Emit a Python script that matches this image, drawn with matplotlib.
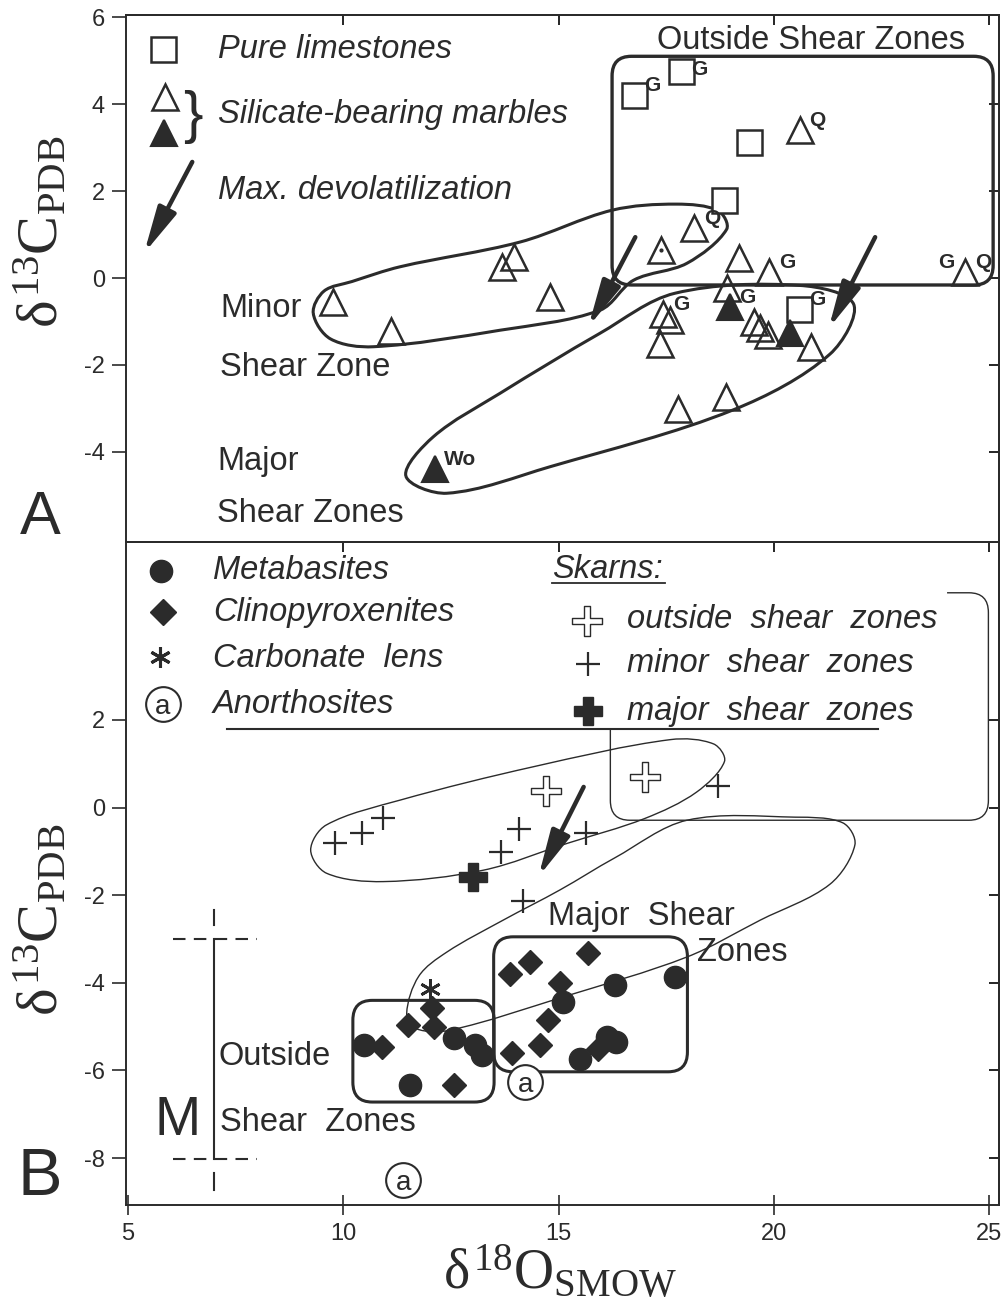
import numpy as np
import matplotlib
matplotlib.use('Agg')
import matplotlib.pyplot as plt
from matplotlib.patches import FancyBboxPatch, PathPatch, FancyArrowPatch
from matplotlib.path import Path

plt.rcParams['font.family'] = ['Liberation Sans', 'DejaVu Sans']
plt.rcParams['mathtext.fontset'] = 'custom'
plt.rcParams['mathtext.rm'] = 'Liberation Serif'
plt.rcParams['mathtext.it'] = 'Liberation Serif'
plt.rcParams['axes.unicode_minus'] = False

INK = '#2b2b2b'

# ====== Panel A : marbles
lime_x = [16.75, 17.85, 19.42, 18.84, 20.59]
lime_y = [4.21, 4.77, 3.13, 1.80, -0.71]

sil_open_x = [20.60, 18.15, 17.37, 19.18, 19.89, 24.44, 9.77, 11.10, 13.69, 13.97, 14.81,
              17.43, 17.59, 17.35, 18.92, 19.54, 19.68, 19.85, 20.86, 18.88, 17.77]
sil_open_y = [3.40, 1.14, 0.64, 0.47, 0.13, 0.13, -0.54, -1.21, 0.25, 0.48, -0.44,
              -0.83, -0.97, -1.52, -0.24, -1.02, -1.16, -1.31, -1.58, -2.73, -3.02]
sil_fill_x = [12.12, 18.97, 20.38]
sil_fill_y = [-4.39, -0.67, -1.27]
dotted_x = [17.37]
dotted_y = [0.64]

# mineral tags written next to some samples
tag_x = [16.75, 17.85, 20.60, 18.15, 19.89, 24.44, 24.44, 17.43, 18.97, 20.59, 12.12]
tag_y = [4.21, 4.77, 3.40, 1.14, 0.13, 0.13, 0.13, -0.83, -0.67, -0.71, -4.39]
tag_txt = ['G', 'G', 'Q', 'Q', 'G', 'G', 'Q', 'G', 'G', 'G', 'Wo']
tag_side = ['r', 'r', 'r', 'r', 'r', 'l', 'r', 'r', 'r', 'r', 'r']

# hand drawn outlines of panel A
minorA_x = [9.30, 9.55, 10.20, 11.32, 14.11, 16.24, 17.74, 18.70, 18.90, 17.98, 16.74, 15.96, 13.64, 10.70, 9.70]
minorA_y = [-0.81, -0.30, -0.08, 0.26, 0.83, 1.56, 1.70, 1.55, 1.12, 0.34, -0.05, -0.74, -1.20, -1.58, -1.40]
majorA_x = [11.45, 12.09, 13.64, 15.96, 17.70, 20.60, 21.85, 21.30, 19.06, 14.80, 12.40]
majorA_y = [-4.55, -3.65, -2.65, -1.27, -0.35, -0.17, -0.60, -1.75, -3.03, -4.34, -4.95]
outsideA_box = (16.24, -0.16, 25.09, 5.10)

# ====== Panel B : metabasites, clinopyroxenites, skarns
metab_x = [10.47, 12.56, 13.06, 13.21, 11.54, 15.11, 16.31, 17.71, 16.13, 16.32, 15.50]
metab_y = [-5.42, -5.27, -5.42, -5.65, -6.34, -4.43, -4.05, -3.86, -5.23, -5.35, -5.73]
cpx_x = [10.89, 12.56, 11.51, 12.05, 12.10, 13.87, 14.34, 15.69, 15.03, 14.76, 14.57, 13.91, 15.92]
cpx_y = [-5.46, -6.34, -4.97, -4.58, -5.00, -3.79, -3.52, -3.33, -4.01, -4.85, -5.42, -5.61, -5.50]
carb_x = [12.01]
carb_y = [-4.13]
anor_x = [14.22, 11.39]
anor_y = [-6.26, -8.49]
skarn_out_x = [14.71, 17.01]
skarn_out_y = [0.38, 0.70]
skarn_minor_x = [9.81, 10.43, 10.92, 14.09, 13.66, 14.18, 15.63, 18.71]
skarn_minor_y = [-0.82, -0.59, -0.23, -0.49, -1.01, -2.13, -0.59, 0.49]
skarn_major_x = [13.02]
skarn_major_y = [-1.58]

minorB_x = [9.24, 9.60, 11.32, 14.41, 17.60, 18.60, 18.85, 18.20, 17.00, 15.19, 13.25, 10.93, 9.61]
minorB_y = [-0.97, -0.40, 0.17, 0.93, 1.55, 1.45, 1.05, 0.35, -0.25, -0.82, -1.43, -1.69, -1.50]
majorB_x = [11.47, 11.75, 12.40, 13.71, 15.03, 16.30, 17.98, 20.50, 21.60, 21.88, 21.30, 19.68, 17.98, 15.11, 12.48, 11.70]
majorB_y = [-4.70, -3.85, -3.30, -2.57, -1.88, -1.15, -0.29, -0.22, -0.35, -0.85, -1.75, -2.57, -3.41, -4.32, -5.08, -5.05]
outsideB_box = (10.22, -6.72, 13.50, -4.40)
majorB_box = (13.49, -6.03, 17.99, -2.95)
skarn_frame = [(24.02, 4.90), (24.98, 4.90), (24.98, -0.29), (16.20, -0.29), (16.20, 1.79)]

# max devolatilization arrows (start, end)
devolA = [((16.78, 0.94), (15.69, -1.12)), ((22.35, 0.94), (21.27, -1.16))]
devolB = [((15.58, 0.47), (14.53, -1.58))]

# "M" range bar
m_x = 7.0
m_top, m_bot = -3.01, -8.03


def smooth_loop(xs, ys):
    # closed Catmull-Rom outline, tangents scaled by chord length
    pts = np.column_stack([xs, ys])
    n = len(pts)
    d = [np.linalg.norm(pts[(i + 1) % n] - pts[i]) for i in range(n)]
    verts, codes = [pts[0]], [Path.MOVETO]
    for i in range(n):
        p0, p1, p2, p3 = pts[i - 1], pts[i], pts[(i + 1) % n], pts[(i + 2) % n]
        d01, d12, d23 = d[i - 1], d[i], d[(i + 1) % n]
        t1 = (p2 - p0) / (d01 + d12)
        t2 = (p3 - p1) / (d12 + d23)
        verts += [p1 + t1 * d12 / 3, p2 - t2 * d12 / 3, p2]
        codes += [Path.CURVE4] * 3
    return Path(verts, codes)


def rounded_line(pts, r):
    pts = np.asarray(pts, float)
    verts, codes = [pts[0]], [Path.MOVETO]
    for i in range(1, len(pts) - 1):
        a, b, c = pts[i - 1], pts[i], pts[i + 1]
        u = (a - b) / np.linalg.norm(a - b)
        v = (c - b) / np.linalg.norm(c - b)
        verts += [b + u * r, b, b + v * r]
        codes += [Path.LINETO, Path.CURVE3, Path.CURVE3]
    verts.append(pts[-1])
    codes.append(Path.LINETO)
    return Path(verts, codes)


def rbox(ax, box, lw):
    x0, y0, x1, y1 = box
    ax.add_patch(FancyBboxPatch((x0, y0), x1 - x0, y1 - y0,
                                boxstyle='round,pad=0,rounding_size=0.45',
                                fc='none', ec=INK, lw=lw, zorder=2))


def devol_arrow(ax, start, end, lw=3.2):
    ax.add_patch(FancyArrowPatch(start, end, arrowstyle='-|>,head_length=28,head_width=6',
                                 mutation_scale=1, lw=lw, color=INK, shrinkA=0, shrinkB=0,
                                 zorder=4))


# plus outline used for "outside shear zones" skarns
a, b = 0.5, 0.11
hollow_plus = Path([(-b, -a), (b, -a), (b, -b), (a, -b), (a, b), (b, b), (b, a), (-b, a),
                    (-b, b), (-a, b), (-a, -b), (-b, -b), (-b, -a)], closed=True)

fig = plt.figure(figsize=(10.06, 13.04), dpi=100)
ax1 = fig.add_axes([0.1252, 0.5844, 0.868, 0.4041])
ax2 = fig.add_axes([0.1252, 0.0759, 0.868, 0.5085])

TXT = 23.5
TICK = 17

# ====== Panel A
ax1.set_xlim(4.95, 25.23)
ax1.set_ylim(-6.07, 6.05)

ax1.plot(lime_x, lime_y, 's', ms=18, mfc='white', mec=INK, mew=1.8, ls='none', zorder=3)
ax1.plot(sil_open_x, sil_open_y, '^', ms=18.5, mfc='none', mec=INK, mew=1.8, ls='none', zorder=3)
ax1.plot(sil_fill_x, sil_fill_y, '^', ms=18.5, mfc=INK, mec=INK, mew=1.5, ls='none', zorder=3)
ax1.plot(dotted_x, dotted_y, '.', ms=4, color=INK, zorder=3)

for i, (x, y, t, s) in enumerate(zip(tag_x, tag_y, tag_txt, tag_side)):
    dx = 7 if s == 'r' else -8
    dy = 1 if i == 1 else 7
    ax1.annotate(t, (x, y), xytext=(dx, dy), textcoords='offset points',
                 ha='left' if s == 'r' else 'right', va='center', fontsize=15,
                 fontweight='bold', family=['Liberation Sans Narrow', 'Liberation Sans'],
                 color=INK, zorder=5)

ax1.add_patch(PathPatch(smooth_loop(minorA_x, minorA_y), fc='none', ec=INK, lw=2.2, zorder=2))
ax1.add_patch(PathPatch(smooth_loop(majorA_x, majorA_y), fc='none', ec=INK, lw=2.2, zorder=2))
rbox(ax1, outsideA_box, 2.4)

for s, e in devolA:
    devol_arrow(ax1, s, e)

ax1.text(20.87, 5.47, 'Outside Shear Zones', fontsize=TXT, ha='center', va='center', color=INK)
ax1.text(7.14, -0.69, 'Minor', fontsize=TXT, va='center', color=INK)
ax1.text(7.14, -2.05, 'Shear Zone', fontsize=TXT, va='center', color=INK)
ax1.text(7.07, -4.23, 'Major', fontsize=TXT, va='center', color=INK)
ax1.text(7.07, -5.42, 'Shear Zones', fontsize=TXT, va='center', color=INK)

# legend of panel A
ax1.plot([5.81], [5.26], 's', ms=18, mfc='white', mec=INK, mew=1.8)
ax1.plot([5.85], [4.16], '^', ms=18.5, mfc='white', mec=INK, mew=1.8)
ax1.plot([5.84], [3.33], '^', ms=18.5, mfc=INK, mec=INK, mew=1.5)
ax1.text(6.50, 3.70, '}', fontsize=42, ha='center', va='center', color=INK)
devol_arrow(ax1, (6.49, 2.67), (5.37, 0.57))
ax1.text(7.09, 5.26, 'Pure limestones', fontsize=TXT, style='italic', va='center', color=INK)
ax1.text(7.09, 3.75, 'Silicate-bearing marbles', fontsize=TXT, style='italic', va='center', color=INK)
ax1.text(7.09, 2.02, 'Max. devolatilization', fontsize=TXT, style='italic', va='center', color=INK)

ax1.set_yticks([6, 4, 2, 0, -2, -4])
ax1.tick_params(axis='y', direction='out', length=10, width=1.2, pad=5, labelsize=TICK,
                right=False, colors=INK)
ax1.tick_params(axis='x', bottom=False, labelbottom=False, top=False)
t1 = ax1.secondary_xaxis('top')
t1.set_xticks([10, 15, 20, 25])
t1.tick_params(direction='in', length=7, width=1.2, labeltop=False)
r1 = ax1.secondary_yaxis('right')
r1.set_yticks([4, 2, 0, -2, -4])
r1.tick_params(direction='in', length=7, width=1.2, labelright=False)

# ====== Panel B
ax2.set_xlim(4.95, 25.23)
ax2.set_ylim(-9.07, 6.06)

ax2.add_patch(PathPatch(smooth_loop(minorB_x, minorB_y), fc='none', ec=INK, lw=1.0, zorder=2))
ax2.add_patch(PathPatch(smooth_loop(majorB_x, majorB_y), fc='none', ec=INK, lw=1.0, zorder=2))
ax2.add_patch(PathPatch(rounded_line(skarn_frame, 0.45), fc='none', ec=INK, lw=1.0, zorder=2))
ax2.plot([7.29, 22.42], [1.79, 1.79], color=INK, lw=1.5)
rbox(ax2, outsideB_box, 2.2)
rbox(ax2, majorB_box, 2.2)

ax2.plot(metab_x, metab_y, 'o', ms=16, color=INK, ls='none', zorder=3)
ax2.plot(cpx_x, cpx_y, 'D', ms=12.5, color=INK, ls='none', zorder=3)
ax2.plot(carb_x, carb_y, marker=(6, 2, 0), ms=15, mew=2, color=INK, ls='none', zorder=3)
ax2.plot(anor_x, anor_y, 'o', ms=25, mfc='white', mec=INK, mew=1.5, ls='none', zorder=3)
for x, y in zip(anor_x, anor_y):
    ax2.text(x, y, 'a', fontsize=20, ha='center', va='center_baseline', color=INK, zorder=4)
ax2.plot(skarn_out_x, skarn_out_y, marker=hollow_plus, ms=22, mfc='white', mec=INK, mew=1.0,
         ls='none', zorder=3)
ax2.plot(skarn_minor_x, skarn_minor_y, '+', ms=17, mew=1.6, color=INK, ls='none', zorder=3)
ax2.plot(skarn_major_x, skarn_major_y, 'P', ms=20, color=INK, ls='none', zorder=3)

for s, e in devolB:
    devol_arrow(ax2, s, e)

# M bar
ax2.plot([m_x, m_x], [m_top, m_bot], color=INK, lw=1.5)
for yy in (m_top, m_bot):
    ax2.plot([6.05, 7.99], [yy, yy], color=INK, lw=1.5, dashes=(6, 4))
ax2.plot([m_x, m_x], [-2.34, -2.68], color=INK, lw=1.5)
ax2.plot([m_x, m_x], [-8.34, -8.73], color=INK, lw=1.5)
ax2.text(6.16, -7.16, 'M', fontsize=40, ha='center', va='center', color=INK)

ax2.text(7.09, -5.67, 'Outside', fontsize=TXT, va='center', color=INK)
ax2.text(7.14, -7.18, 'Shear  Zones', fontsize=TXT, va='center', color=INK)
ax2.text(14.76, -2.48, 'Major  Shear', fontsize=TXT, va='center', color=INK)
ax2.text(18.22, -3.30, 'Zones', fontsize=TXT, va='center', color=INK)

# legend of panel B
ax2.plot([5.77], [5.40], 'o', ms=16, color=INK)
ax2.plot([5.80], [4.46], 'D', ms=13, color=INK)
ax2.plot([5.74], [3.44], marker=(6, 2, 0), ms=15, mew=2.2, color=INK)
ax2.plot([5.80], [2.36], 'o', ms=25, mfc='white', mec=INK, mew=1.5)
ax2.text(5.80, 2.36, 'a', fontsize=20, ha='center', va='center_baseline', color=INK)
ax2.text(6.97, 5.40, 'Metabasites', fontsize=TXT, style='italic', va='center', color=INK)
ax2.text(6.97, 4.46, 'Clinopyroxenites', fontsize=TXT, style='italic', va='center', color=INK)
ax2.text(6.97, 3.41, 'Carbonate  lens', fontsize=TXT, style='italic', va='center', color=INK)
ax2.text(6.97, 2.34, 'Anorthosites', fontsize=TXT, style='italic', va='center', color=INK)

ax2.text(14.85, 5.42, 'Skarns:', fontsize=TXT, style='italic', va='center', color=INK)
ax2.plot([14.85, 17.47], [5.13, 5.13], color=INK, lw=1.3)
ax2.plot([15.66], [4.26], marker=hollow_plus, ms=22, mfc='white', mec=INK, mew=1.0)
ax2.plot([15.67], [3.28], '+', ms=17, mew=1.6, color=INK)
ax2.plot([15.69], [2.20], 'P', ms=20, color=INK)
ax2.text(16.59, 4.28, 'outside  shear  zones', fontsize=TXT, style='italic', va='center', color=INK)
ax2.text(16.59, 3.28, 'minor  shear  zones', fontsize=TXT, style='italic', va='center', color=INK)
ax2.text(16.59, 2.20, 'major  shear  zones', fontsize=TXT, style='italic', va='center', color=INK)

ax2.set_xticks([5, 10, 15, 20, 25])
ax2.set_yticks([2, 0, -2, -4, -6, -8])
ax2.tick_params(axis='y', direction='out', length=10, width=1.2, pad=5, labelsize=TICK,
                right=False, colors=INK)
ax2.tick_params(axis='x', direction='inout', length=14, width=1.2, pad=6, labelsize=TICK,
                top=False, colors=INK)
t2 = ax2.secondary_xaxis('top')
t2.set_xticks([10, 15, 20, 25])
t2.tick_params(direction='in', length=7, width=1.2, labeltop=False)
r2 = ax2.secondary_yaxis('right')
r2.set_yticks([2, 0, -2, -4, -6, -8])
r2.tick_params(direction='in', length=7, width=1.2, labelright=False)

for ax in (ax1, ax2, t1, r1, t2, r2):
    for sp in ax.spines.values():
        sp.set_linewidth(1.4)
        sp.set_color(INK)

# axis titles and panel letters
ylab = r'$\delta^{13}\mathrm{C}_{\mathrm{PDB}}$'
fig.text(0.042, 1 - 232 / 1304, ylab, fontsize=42, rotation=90, ha='center', va='center', color=INK)
fig.text(0.042, 1 - 920 / 1304, ylab, fontsize=42, rotation=90, ha='center', va='center', color=INK)
fig.text(560 / 1006, 1 - 1272 / 1304, r'$\delta^{18}\mathrm{O}_{\mathrm{SMOW}}$', fontsize=40,
         ha='center', va='center', color=INK)
fig.text(40 / 1006, 1 - 519 / 1304, 'A', fontsize=44, ha='center', va='center', color=INK)
fig.text(40 / 1006, 1 - 1178 / 1304, 'B', fontsize=48, ha='center', va='center', color=INK)

fig.savefig('out.png', dpi=100)
